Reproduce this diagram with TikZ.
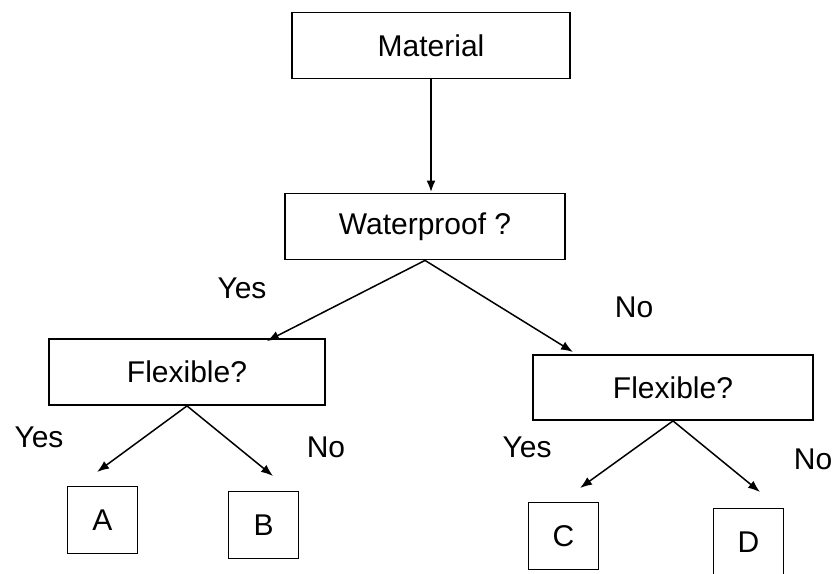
\documentclass[tikz,border=0pt]{standalone}
\usepackage{fontspec}
\setmainfont{Liberation Sans}
\usetikzlibrary{arrows.meta}
\begin{document}
\begin{tikzpicture}[x=0.5pt,y=-0.5pt,
  >={Latex[length=6pt,width=4.5pt]},
  txt/.style={font=\fontsize{15}{18}\selectfont},
  box/.style={txt,draw,line width=0.9pt,inner sep=0pt},
  qbox/.style={box,minimum width=139pt,minimum height=33pt},
  leaf/.style={box,minimum width=35pt,minimum height=33.5pt},
  arr/.style={->,line width=0.75pt}]
\useasboundingbox (0,0) rectangle (838,573);
%question boxes
\node[qbox](mat)at(431,45.5){Material};
\node[qbox,minimum width=140pt](wp)at(425,226.5){Waterproof ?};
\node[qbox,minimum width=138pt](flexL)at(187,372){Flexible?};
\node[qbox,minimum width=140pt,minimum height=32.5pt](flexR)at(673,387.5){Flexible?};
%leaves
\foreach \n/\x/\y in {A/102.5/520,B/263.5/525,C/563.5/536,D/748.5/542}{
\node[leaf](\n)at(\x,\y){\n};
}
%arrow ends
\coordinate(tipWL)at(267,341);
\coordinate(tipWR)at(573,352);
\coordinate(tipA)at(97,472);
\coordinate(tipB)at(273,476);
\coordinate(tipC)at(580,488);
\coordinate(tipD)at(760,492);
%arrows
\draw[arr,line width=1.2pt](mat.south)--(mat.south |- wp.north);
\draw[arr](wp.south)--(tipWL);
\draw[arr](wp.south)--(tipWR);
\draw[arr](flexL.south)--(tipA);
\draw[arr](flexL.south)--(tipB);
\draw[arr](flexR.south)--(tipC);
\draw[arr](flexR.south)--(tipD);
%labels
\node[txt](yes1)at(242,288){Yes};
\node[txt](no1)at(634,307){No};
\node[txt](yes2)at(39,437){Yes};
\node[txt](no2)at(326,447){No};
\node[txt](yes3)at(527,447){Yes};
\node[txt](no3)at(813,459){No};
\end{tikzpicture}
\end{document}
